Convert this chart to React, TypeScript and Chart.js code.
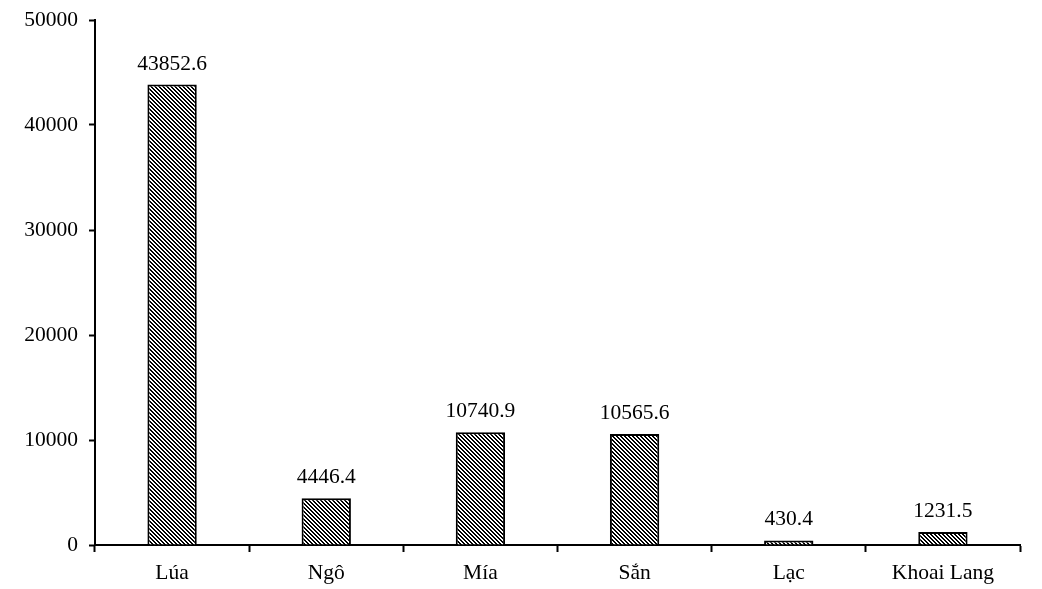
import React, { useEffect, useRef } from "react";
import { Chart, registerables } from "chart.js";

Chart.register(...registerables);

const categories = ["Lúa", "Ngô", "Mía", "Sắn", "Lạc", "Khoai Lang"];
const values = [43852.6, 4446.4, 10740.9, 10565.6, 430.4, 1231.5];
const valueLabels = ["43852.6", "4446.4", "10740.9", "10565.6", "430.4", "1231.5"];
const yTicks = [0, 10000, 20000, 30000, 40000, 50000];

const FONT = "'Liberation Serif', 'Times New Roman', serif";

function makePattern(): CanvasPattern | string {
  const c = document.createElement("canvas");
  c.width = 4;
  c.height = 4;
  const ctx = c.getContext("2d");
  if (!ctx) return "#888";
  const img = ctx.createImageData(4, 4);
  for (let y = 0; y < 4; y++) {
    for (let x = 0; x < 4; x++) {
      const d = (((x - y) % 4) + 4) % 4;
      const black = d === 0 || d === 1;
      const i = (y * 4 + x) * 4;
      const v = black ? 0 : 255;
      img.data[i] = v;
      img.data[i + 1] = v;
      img.data[i + 2] = v;
      img.data[i + 3] = 255;
    }
  }
  ctx.putImageData(img, 0, 0);
  const main = document.createElement("canvas").getContext("2d");
  return (main && main.createPattern(c, "repeat")) || "#888";
}

const labelPlugin = {
  id: "valueLabels",
  afterDatasetsDraw(chart: any) {
    const ctx = chart.ctx;
    const meta = chart.getDatasetMeta(0);
    ctx.save();
    ctx.font = `21.5px ${FONT}`;
    ctx.fillStyle = "#000";
    ctx.textAlign = "center";
    ctx.textBaseline = "alphabetic";
    meta.data.forEach((el: any, i: number) => {
      ctx.fillText(valueLabels[i], el.x, el.y - 15);
    });
    ctx.restore();
  },
};

export default function App() {
  const ref = useRef<HTMLCanvasElement | null>(null);
  useEffect(() => {
    if (!ref.current) return;
    const pattern = makePattern();
    const chart = new Chart(ref.current, {
      type: "bar",
      data: {
        labels: categories,
        datasets: [
          {
            data: values,
            backgroundColor: pattern as any,
            borderColor: "#000",
            borderWidth: 2,
            barPercentage: 0.64,
            categoryPercentage: 0.5,
          },
        ],
      },
      options: {
        responsive: false,
        animation: false,
        layout: { padding: { left: 0, right: 22, top: 20, bottom: 0 } },
        plugins: {
          legend: { display: false },
          tooltip: { enabled: false },
        },
        scales: {
          x: {
            offset: true,
            grid: {
              offset: true,
              drawOnChartArea: false,
              drawTicks: true,
              tickLength: 7,
              tickWidth: 2,
              tickColor: "#000",
              color: "#000",
            },
            border: { color: "#000", width: 2 },
            ticks: {
              color: "#000",
              font: { family: FONT, size: 21.5 },
              padding: 8,
              maxRotation: 0,
              autoSkip: false,
            },
            afterFit(axis: any) {
              axis.height = 44;
            },
          },
          y: {
            min: 0,
            max: 50000,
            afterBuildTicks(axis: any) {
              axis.ticks = yTicks.map((v) => ({ value: v }));
            },
            grid: {
              drawOnChartArea: false,
              drawTicks: true,
              tickLength: 6,
              tickWidth: 2,
              tickColor: "#000",
              color: "#000",
            },
            border: { color: "#000", width: 2 },
            ticks: {
              color: "#000",
              font: { family: FONT, size: 21.5 },
              padding: 11,
              callback: (v: any) => String(v),
            },
            afterFit(axis: any) {
              axis.width = 95;
              axis.paddingTop = 0;
              axis.paddingBottom = 0;
            },
          },
        },
      },
      plugins: [labelPlugin],
    });
    return () => chart.destroy();
  }, []);
  return (
    <div style={{ position: "absolute", left: 0, top: 0, width: 1042, height: 589, background: "#fff" }}>
      <canvas ref={ref} width={1042} height={589} />
    </div>
  );
}
